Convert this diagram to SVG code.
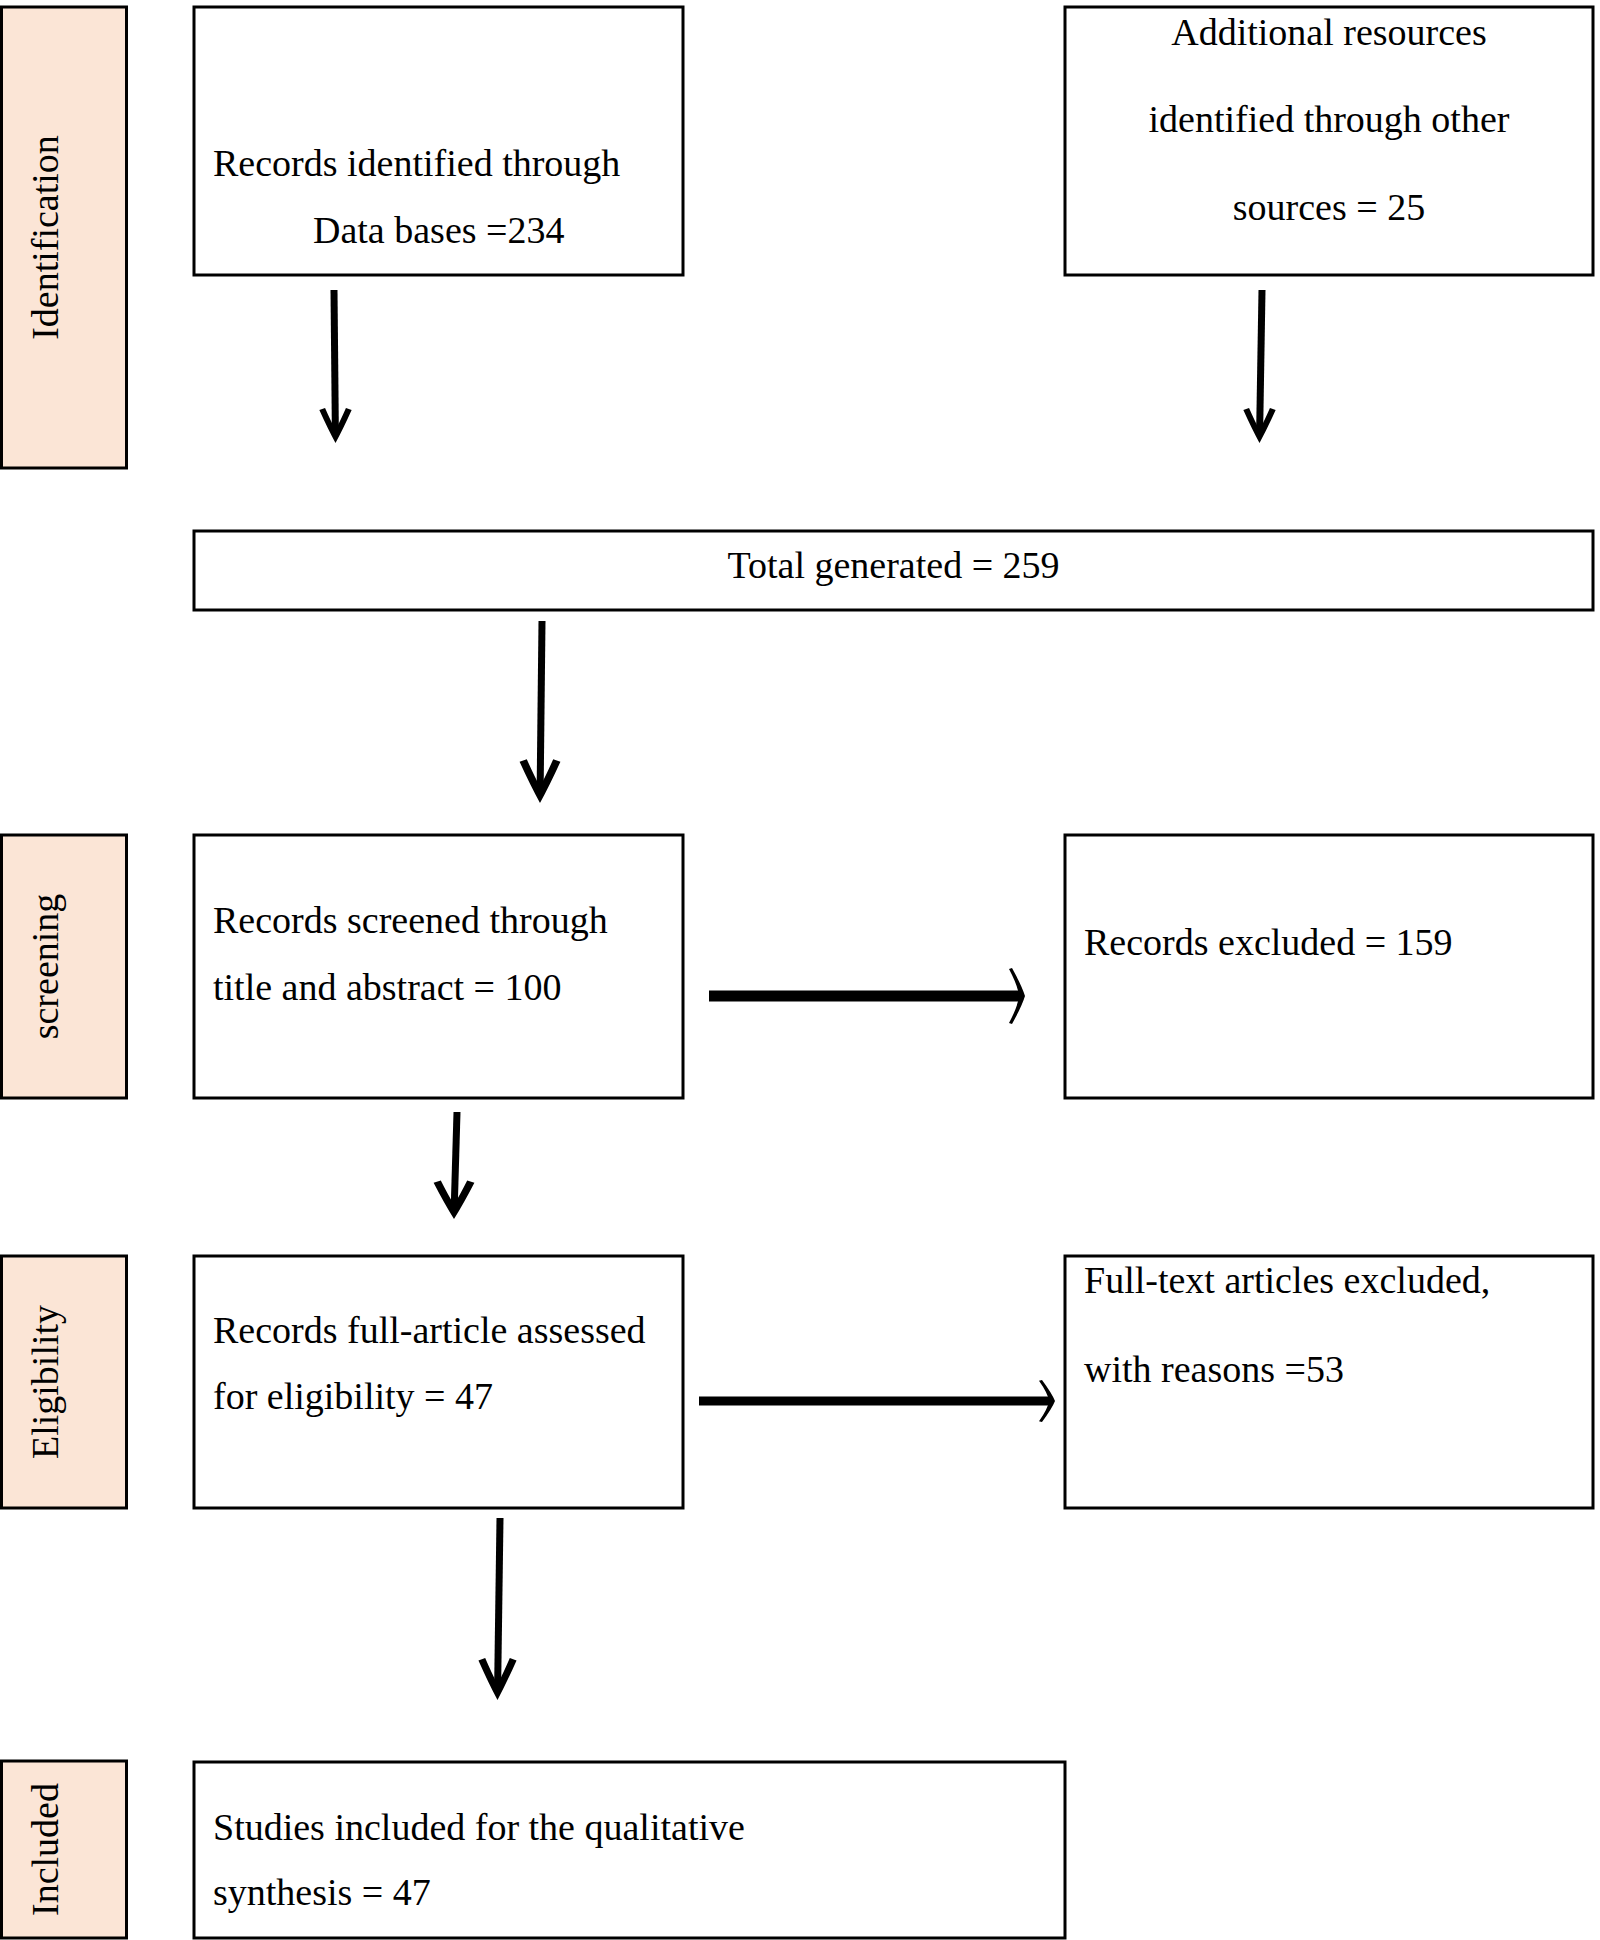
<svg xmlns="http://www.w3.org/2000/svg" xmlns:xlink="http://www.w3.org/1999/xlink" width="1600" height="1940" viewBox="0 0 1600 1940">
<style>
  .box { fill: #ffffff; stroke: #000000; stroke-width: 3; }
  .lab { fill: #FBE5D6; stroke: #000000; stroke-width: 3; }
  .t { font-family: "Liberation Serif", "Times New Roman", serif; font-size: 38px; fill: #000000; }
  .mid { text-anchor: middle; }
  .vline { stroke: #000000; stroke-width: 7; fill: none; }
  .head { fill: #000000; }
</style>
<defs>
  <path id="vh" d="M -17,-33 Q -8,-14 0,0 Q 8,-14 17,-33 L 11,-35 Q 5,-22 0,-13 Q -5,-22 -11,-35 Z"/>
  <path id="hh" d="M -13,-28 Q -3,-10 0,0 Q -3,10 -13,28 L -16,27 Q -7,10 -6,0 Q -7,-10 -16,-27 Z"/>
</defs>
<rect width="1600" height="1940" fill="#ffffff"/>

<g id="lab-identification">
  <rect class="lab" x="1.5" y="7" width="125" height="461"/>
  <text class="t mid" transform="translate(58,237.5) rotate(-90)">Identification</text>
</g>
<g id="lab-screening">
  <rect class="lab" x="1.5" y="835" width="125" height="263"/>
  <text class="t mid" transform="translate(58,966.5) rotate(-90)">screening</text>
</g>
<g id="lab-eligibility">
  <rect class="lab" x="1.5" y="1256" width="125" height="252"/>
  <text class="t mid" transform="translate(58,1382) rotate(-90)">Eligibility</text>
</g>
<g id="lab-included">
  <rect class="lab" x="1.5" y="1761" width="125" height="177"/>
  <text class="t mid" transform="translate(58,1849.5) rotate(-90)">Included</text>
</g>

<g id="n-databases">
  <rect class="box" x="194" y="7" width="489" height="268"/>
  <text class="t" x="213" y="176">Records identified through</text>
  <text class="t" x="313" y="243">Data bases =234</text>
</g>
<g id="n-other-sources">
  <rect class="box" x="1065" y="7" width="528" height="268"/>
  <text class="t mid" x="1329" y="45">Additional resources</text>
  <text class="t mid" x="1329" y="132">identified through other</text>
  <text class="t mid" x="1329" y="220">sources = 25</text>
</g>
<g id="n-total">
  <rect class="box" x="194" y="531" width="1399" height="79"/>
  <text class="t mid" x="893.5" y="578">Total generated = 259</text>
</g>
<g id="n-screened">
  <rect class="box" x="194" y="835" width="489" height="263"/>
  <text class="t" x="213" y="933">Records screened through</text>
  <text class="t" x="213" y="1000">title and abstract = 100</text>
</g>
<g id="n-excluded">
  <rect class="box" x="1065" y="835" width="528" height="263"/>
  <text class="t" x="1084" y="955">Records excluded = 159</text>
</g>
<g id="n-assessed">
  <rect class="box" x="194" y="1256" width="489" height="252"/>
  <text class="t" x="213" y="1343">Records full-article assessed</text>
  <text class="t" x="213" y="1409">for eligibility = 47</text>
</g>
<g id="n-fulltext-excluded">
  <rect class="box" x="1065" y="1256" width="528" height="252"/>
  <text class="t" x="1084" y="1293">Full-text articles excluded,</text>
  <text class="t" x="1084" y="1382">with reasons =53</text>
</g>
<g id="n-included">
  <rect class="box" x="194" y="1762" width="871" height="176"/>
  <text class="t" x="213" y="1840">Studies included for the qualitative</text>
  <text class="t" x="213" y="1905">synthesis = 47</text>
</g>

<g id="connectors">
  <line class="vline" x1="334" y1="290" x2="335.4" y2="434"/>
  <use xlink:href="#vh" class="head" transform="translate(335.5,443) scale(0.95,1)"/>

  <line class="vline" x1="1262" y1="290" x2="1259.6" y2="434"/>
  <use xlink:href="#vh" class="head" transform="translate(1259.5,443) scale(0.95,1)"/>

  <line class="vline" x1="542" y1="621" x2="540.1" y2="793"/>
  <use xlink:href="#vh" class="head" transform="translate(540,803) scale(1.2,1.25)"/>

  <line class="vline" x1="457" y1="1112" x2="454.2" y2="1209"/>
  <use xlink:href="#vh" class="head" transform="translate(454,1219) scale(1.2,1.1)"/>

  <line class="vline" x1="500" y1="1518" x2="497.6" y2="1690"/>
  <use xlink:href="#vh" class="head" transform="translate(497.5,1700) scale(1.12,1.2)"/>

  <line stroke="#000" stroke-width="11" x1="709" y1="996" x2="1021" y2="996"/>
  <use xlink:href="#hh" class="head" transform="translate(1025,996)"/>

  <line stroke="#000" stroke-width="9" x1="699" y1="1401" x2="1051" y2="1401"/>
  <use xlink:href="#hh" class="head" transform="translate(1055,1401) scale(1,0.75)"/>
</g>
</svg>
